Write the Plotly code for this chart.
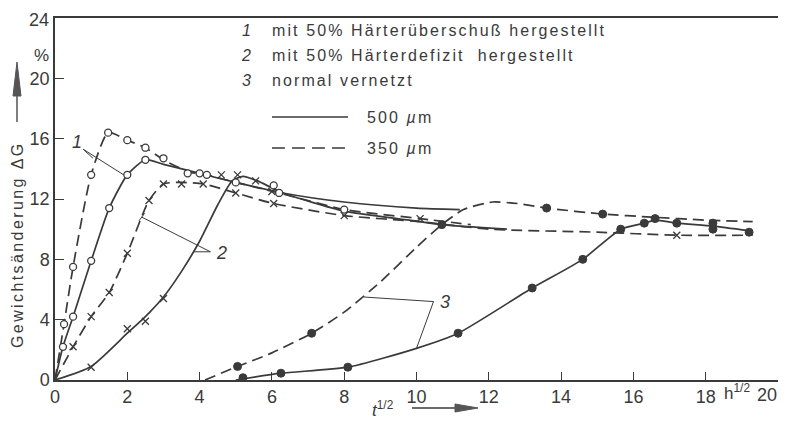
import plotly.graph_objects as go

# ---------------- data ----------------
# curve 1 : with 50 % hardener excess
c1s_x = [0, 0.22, 0.5, 1.0, 1.5, 2.0, 2.5, 3.0, 4.0, 5.0, 6.3, 8.0, 10.0, 11.2]
c1s_y = [0, 2.2, 4.2, 7.9, 11.4, 13.6, 14.6, 14.3, 13.7, 13.1, 12.4, 11.8, 11.4, 11.3]
p1s_x = [0.22, 0.5, 1.0, 1.5, 2.0, 2.5]
p1s_y = [2.2, 4.2, 7.9, 11.4, 13.6, 14.6]

c1d_x = [0, 0.25, 0.5, 1.0, 1.47, 2.0, 2.5, 3.0, 3.7, 4.2, 5.0, 6.2, 8.0, 10.1, 11.5]
c1d_y = [0, 3.7, 7.5, 13.6, 16.4, 15.9, 15.4, 14.6, 13.8, 13.6, 13.1, 12.4, 11.3, 10.7, 10.3]
p1d_x = [0.25, 0.5, 1.0, 1.47, 2.0, 2.5, 3.0, 3.67, 4.0, 4.2, 5.0, 6.05, 6.2, 8.0]
p1d_y = [3.7, 7.5, 13.6, 16.4, 15.9, 15.4, 14.7, 13.7, 13.7, 13.6, 13.1, 12.9, 12.4, 11.3]

# curve 2 : with 50 % hardener deficit
c2s_x = [0, 1.0, 2.0, 2.5, 3.0, 3.5, 4.0, 4.5, 4.9, 5.2, 5.6, 6.3, 8.0, 9.8, 10.7, 12.5]
c2s_y = [0, 0.9, 3.1, 4.2, 5.5, 7.2, 9.2, 11.6, 13.2, 13.5, 13.2, 12.4, 11.2, 10.6, 10.3, 10.0]
p2s_x = [1.0, 2.0, 2.5, 3.0, 4.6, 5.05, 5.55, 6.0]
p2s_y = [0.85, 3.4, 3.9, 5.4, 13.6, 13.6, 13.2, 12.5]

c2d_x = [0, 0.5, 1.0, 1.5, 2.0, 2.6, 3.0, 3.5, 4.1, 5.0, 6.05, 8.0, 10.1, 12.0, 15.0, 17.2, 19.3]
c2d_y = [0, 2.2, 4.2, 5.8, 8.4, 11.9, 13.0, 13.1, 13.0, 12.4, 11.7, 10.9, 10.5, 10.0, 9.8, 9.6, 9.6]
p2d_x = [0.5, 1.0, 1.5, 2.0, 2.6, 3.0, 3.5, 4.1, 5.0, 6.05, 8.0, 10.1, 17.2]
p2d_y = [2.2, 4.2, 5.8, 8.4, 11.9, 13.0, 13.0, 13.0, 12.4, 11.7, 10.9, 10.7, 9.6]

# curve 3 : normally cross-linked
c3s_x = [5.0, 6.25, 8.1, 10.0, 11.15, 13.2, 14.6, 15.65, 16.3, 16.6, 17.2, 18.2, 19.2]
c3s_y = [0, 0.45, 0.85, 2.1, 3.1, 6.1, 8.0, 10.0, 10.4, 10.6, 10.4, 10.2, 9.9]
p3s_x = [5.2, 6.25, 8.1, 11.15, 13.2, 14.6, 15.65, 16.3, 16.6, 17.2, 18.2, 18.2, 19.2]
p3s_y = [0.15, 0.45, 0.85, 3.1, 6.1, 8.0, 10.0, 10.4, 10.7, 10.4, 10.0, 10.4, 9.8]

c3d_x = [4.15, 5.05, 6.0, 7.1, 8.0, 9.0, 10.0, 10.7, 11.3, 12.1, 12.8, 13.6, 15.15, 16.5, 18.0, 19.3]
c3d_y = [0, 0.9, 1.8, 3.1, 4.5, 6.5, 8.8, 10.3, 11.3, 11.8, 11.7, 11.4, 11.0, 10.8, 10.6, 10.5]
p3d_x = [5.05, 7.1, 10.7, 13.6, 15.15]
p3d_y = [0.9, 3.1, 10.3, 11.4, 11.0]

x_ticks = [0, 2, 4, 6, 8, 10, 12, 14, 16, 18]
x_last = 20
y_ticks = [0, 4, 8, 12, 16, 20]
y_last = 24

legend_lines = ["mit 50% Härterüberschuß hergestellt",
                "mit 50% Härterdefizit  hergestellt",
                "normal vernetzt"]

# ---------------- styling ----------------
INK = "#3a3a3a"
FONT = "Liberation Sans, DejaVu Sans, sans-serif"
DASH = "11px,6px"
OFF = 8                      # page body margin of the browser
W, H = 786 - OFF, 428 - 2 * OFF
L, T = 55 - OFF, 18 - OFF    # plot area: screen x 55..778, y 18..380
R = W - (778 - OFF)
B = H - (380 - OFF)
PW, PH = W - L - R, H - T - B


def P(px, py):
    """screen pixel -> paper coords"""
    return (px - OFF - L) / PW, (H - B - (py - OFF)) / PH


fig = go.Figure()


def curve(x, y, dash):
    fig.add_trace(go.Scatter(x=x, y=y, mode="lines",
                             line=dict(color=INK, width=1.7, dash=dash, shape="spline", smoothing=0.6),
                             hoverinfo="skip"))


def pts(x, y, kind, size):
    if kind == "open":
        mk = dict(symbol="circle", size=size, color="white", line=dict(color=INK, width=1.3))
    elif kind == "filled":
        mk = dict(symbol="circle", size=size, color=INK, line=dict(color=INK, width=1))
    else:
        mk = dict(symbol="x-thin-open", size=size, color=INK, line=dict(color=INK, width=1.3))
    fig.add_trace(go.Scatter(x=x, y=y, mode="markers", marker=mk, hoverinfo="skip"))


curve(c1s_x, c1s_y, "solid")
curve(c1d_x, c1d_y, DASH)
curve(c2s_x, c2s_y, "solid")
curve(c2d_x, c2d_y, DASH)
curve(c3s_x, c3s_y, "solid")
curve(c3d_x, c3d_y, DASH)
pts(p1s_x, p1s_y, "open", 7)
pts(p1d_x, p1d_y, "open", 7)
pts(p2s_x, p2s_y, "x", 7)
pts(p2d_x, p2d_y, "x", 7)
pts(p3s_x, p3s_y, "filled", 8)
pts(p3d_x, p3d_y, "filled", 8)

shapes = []
ann = []


def text(px, py, s, size=16, anchor="center", angle=0):
    x, y = P(px, py)
    ann.append(dict(x=x, y=y, xref="paper", yref="paper", text=s, showarrow=False,
                    xanchor=anchor, yanchor="middle", textangle=angle,
                    font=dict(size=size, color=INK, family=FONT)))


# leader lines for curve labels (data coords)
for (x0, y0, x1, y1) in [(0.78, 15.3, 1.05, 14.7), (0.78, 15.3, 1.9, 13.6),
                         (4.3, 8.5, 2.4, 10.8), (4.3, 8.5, 3.83, 8.5),
                         (10.47, 5.2, 8.55, 5.5), (10.47, 5.2, 10.0, 2.1)]:
    shapes.append(dict(type="line", xref="x", yref="y", x0=x0, y0=y0, x1=x1, y1=y1,
                       line=dict(color=INK, width=1)))
shapes.append(dict(type="line", xref="x", yref="y", x0=2.32, y0=10.55, x1=2.48, y1=11.05,
                   line=dict(color=INK, width=1)))
for (tx, ty, t) in [(0.6, 15.8, "1"), (4.6, 8.4, "2"), (10.8, 5.2, "3")]:
    ann.append(dict(x=tx, y=ty, xref="x", yref="y", text="<i>%s</i>" % t, showarrow=False,
                    xanchor="center", yanchor="middle",
                    font=dict(size=18, color=INK, family=FONT)))

# last tick labels (kept inside the page)
ann.append(dict(x=x_last, y=0, xref="x", yref="paper", text=str(x_last), showarrow=False,
                xanchor="right", yanchor="top", xshift=1, yshift=-3,
                font=dict(size=18, color=INK, family=FONT)))
ann.append(dict(x=0, y=y_last, xref="paper", yref="y", text=str(y_last), showarrow=False,
                xanchor="right", yanchor="middle", xshift=-4, yshift=-2,
                font=dict(size=18, color=INK, family=FONT)))

# legend block
SP = '<span style="letter-spacing:2.1px">%s</span>'
for i, (num, txt) in enumerate(zip(["1", "2", "3"], legend_lines)):
    py = 30 + i * 25
    text(246, py, "<i>%s</i>" % num, 16)
    text(270, py, SP % txt.replace("  ", "\u00a0\u00a0"), 16, anchor="left")
for py, dash, lab in [(117, "solid", "500"), (148, "dash", "350")]:
    x0, y0 = P(272, py)
    x1, _ = P(348, py)
    shapes.append(dict(type="line", xref="paper", yref="paper", x0=x0, y0=y0, x1=x1, y1=y0,
                       line=dict(color=INK, width=1.7, dash="13px,7px" if dash == "dash" else "solid")))
    text(365, py, SP % ("%s <i>µ</i>m" % lab), 16, anchor="left")

# y-axis title with arrow
text(17, 245, '<span style="letter-spacing:2.4px">Gewichtsänderung ΔG</span>', 16, angle=-90)
x0, y0 = P(17, 122)
x1, y1 = P(17, 92)
shapes.append(dict(type="line", xref="paper", yref="paper", x0=x0, y0=y0, x1=x1, y1=y1,
                   line=dict(color=INK, width=1.3)))
a = P(13, 96); b = P(21, 96); c = P(17, 62)
shapes.append(dict(type="path", xref="paper", yref="paper",
                   path="M %f %f L %f %f L %f %f Z" % (a[0], a[1], b[0], b[1], c[0], c[1]),
                   fillcolor="#555", line=dict(color="#555", width=1)))
text(41, 56, "%", 17)

# x-axis title with arrow
text(383, 409, "<i>t</i><sup>1/2</sup>", 17)
x0, y0 = P(412, 408)
x1, _ = P(458, 408)
shapes.append(dict(type="line", xref="paper", yref="paper", x0=x0, y0=y0, x1=x1, y1=y0,
                   line=dict(color=INK, width=1.3)))
a = P(455, 404); b = P(455, 412); c = P(478, 408)
shapes.append(dict(type="path", xref="paper", yref="paper",
                   path="M %f %f L %f %f L %f %f Z" % (a[0], a[1], b[0], b[1], c[0], c[1]),
                   fillcolor="#555", line=dict(color="#555", width=1)))
text(737, 392, "h<sup>1/2</sup>", 17)

fig.update_layout(
    width=W, height=H, margin=dict(l=L, r=R, t=T, b=B, autoexpand=False),
    paper_bgcolor="white", plot_bgcolor="white", showlegend=False,
    font=dict(family=FONT, size=18, color=INK),
    shapes=shapes, annotations=ann,
    xaxis=dict(range=[0, 20], tickvals=x_ticks + [x_last], ticktext=[str(v) for v in x_ticks] + [""],
               ticks="inside", ticklen=8, tickwidth=1.2, tickcolor=INK,
               showline=True, linecolor=INK, linewidth=1.5, mirror=True,
               showgrid=False, zeroline=False, tickfont=dict(size=18)),
    yaxis=dict(range=[0, 24], tickvals=y_ticks + [y_last], ticktext=[str(v) for v in y_ticks] + [""],
               ticks="inside", ticklen=9, tickwidth=1.2,
               tickcolor=INK, showline=True, linecolor=INK, linewidth=1.5, mirror=True,
               showgrid=False, zeroline=False, tickfont=dict(size=18)),
)

fig.write_html("out.html")
